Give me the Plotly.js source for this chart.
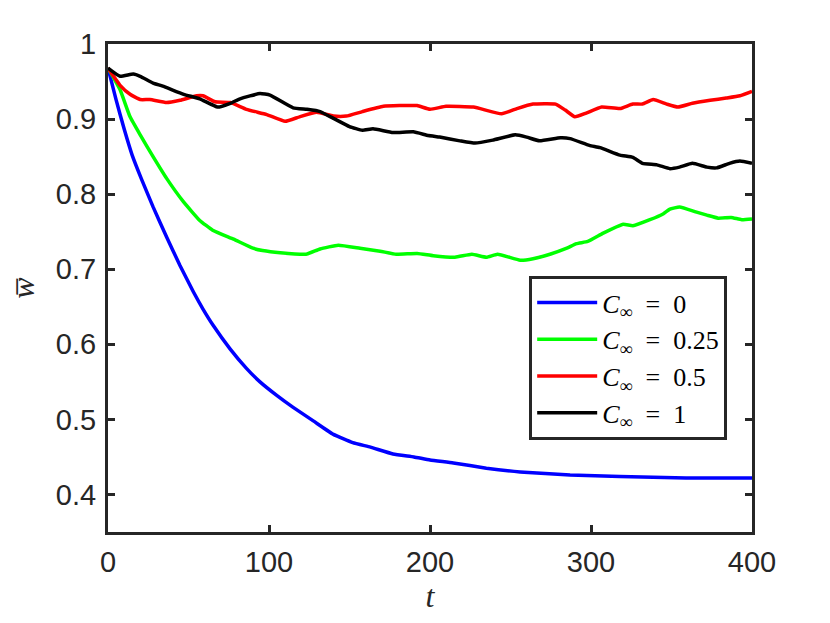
<!DOCTYPE html>
<html>
<head>
<meta charset="utf-8">
<script src="https://cdn.plot.ly/plotly-3.0.1.min.js"></script>
<style>html,body{margin:0;padding:0;background:#fff;}#chart{width:830px;height:623px;}</style>
</head>
<body>
<div id="chart"></div>
<script>
// C_inf = 0
const tBlue = [0,5,10,15,21,28,36.4,44.7,53,59,65.4,75.8,86,94.4,104.8,115,127.5,140,152,163,177,190,200,214.5,235,256,287,318,359,400];
const wBlue = [0.968,0.926,0.887,0.852,0.819,0.783,0.743,0.705,0.670,0.647,0.625,0.594,0.568,0.550,0.532,0.516,0.498,0.480,0.469,0.463,0.454,0.450,0.446,0.442,0.435,0.430,0.426,0.424,0.422,0.422];
// C_inf = 0.25
const tGreen = [0,7.5,13.7,20,28,36.4,46.8,57,65,78,90,96,107,123,131.7,143,156.5,169,179,192,202,215.5,226,235,242,256,264,274.5,285,291,298,307.6,320,326,336.6,345,349,355,365.6,372,379,387,393.6,400];
const wGreen = [0.968,0.939,0.903,0.879,0.850,0.821,0.790,0.765,0.752,0.740,0.728,0.725,0.722,0.720,0.727,0.732,0.728,0.724,0.720,0.721,0.718,0.716,0.720,0.716,0.720,0.712,0.714,0.720,0.728,0.734,0.737,0.748,0.760,0.758,0.766,0.774,0.780,0.783,0.776,0.772,0.768,0.769,0.766,0.767];
// C_inf = 0.5
const tRed = [0,7.5,13.7,20,26,36.4,44.7,55,59,66.5,76,86,98.6,110,119,129.6,140,148,158,171,181,192,200,210,227,244.5,254,264,278,284,290,297,306.6,318,326,332,338.6,347,354,363,374,384,392.5,400];
const wRed = [0.968,0.945,0.933,0.926,0.926,0.922,0.925,0.931,0.931,0.923,0.922,0.913,0.906,0.897,0.903,0.909,0.904,0.904,0.910,0.917,0.918,0.918,0.913,0.917,0.916,0.907,0.914,0.920,0.920,0.912,0.903,0.908,0.916,0.914,0.920,0.920,0.926,0.920,0.916,0.921,0.925,0.928,0.931,0.937];
// C_inf = 1
const tBlack = [0,7.5,15.7,20,28,34,47,57,68,76,82,94.4,100.6,115,123.6,131.7,140,150,158,164.6,177,189.6,199,206,218.6,228,239,253,260,268,281,287,299,305.6,318,326,332,341,349,355,363,372,378,386,392.5,400];
const wBlack = [0.968,0.957,0.960,0.957,0.948,0.944,0.933,0.927,0.916,0.921,0.927,0.934,0.932,0.915,0.913,0.910,0.901,0.890,0.885,0.887,0.882,0.883,0.878,0.876,0.871,0.868,0.872,0.879,0.876,0.871,0.875,0.874,0.865,0.862,0.852,0.849,0.841,0.839,0.834,0.836,0.841,0.836,0.835,0.841,0.844,0.841];

const names = ['<i>C</i><sub>∞</sub>\u2002=\u20020','<i>C</i><sub>∞</sub>\u2002=\u20020.25','<i>C</i><sub>∞</sub>\u2002=\u20020.5','<i>C</i><sub>∞</sub>\u2002=\u20021'];
const colors = ['#0000ff','#00ff00','#ff0000','#000000'];
const xs = [tBlue,tGreen,tRed,tBlack];
const ys = [wBlue,wGreen,wRed,wBlack];
const xTicks = [0,100,200,300,400];
const yTicks = [0.4,0.5,0.6,0.7,0.8,0.9,1];
const yTickText = ['0.4','0.5','0.6','0.7','0.8','0.9','1'];

const traces = xs.map((x,i)=>({
  x: x, y: ys[i], type:'scatter', mode:'lines', name: names[i],
  line:{color:colors[i], width:3.5, shape:'spline', smoothing:0.4}
}));

const axisCommon = {
  showline:true, linecolor:'#262626', linewidth:3, mirror:'ticks',
  ticks:'inside', ticklen:7, tickwidth:3, tickcolor:'#262626',
  showgrid:false, zeroline:false,
  tickfont:{family:'Liberation Sans, Arial, sans-serif', size:29, color:'#262626'}
};

const layout = {
  width:830, height:623,
  margin:{l:108, r:78, t:44, b:91},
  paper_bgcolor:'#fff', plot_bgcolor:'#fff',
  showlegend:true,
  xaxis: Object.assign({}, axisCommon, {
    range:[0,400], tickvals:xTicks, ticktext:xTicks.map(String),
    ticklabelstandoff:2,
    title:{text:'<i>t</i>', font:{family:'Liberation Serif, serif', size:32, color:'#262626'}, standoff:2}
  }),
  yaxis: Object.assign({}, axisCommon, {
    range:[0.35,1], tickvals:yTicks, ticktext:yTickText,
    ticklabelstandoff:3,
    title:{text:'<i>w̅</i>', font:{family:'Liberation Serif, serif', size:32, color:'#262626'}, standoff:12}
  }),
  legend:{
    x:0.654, y:0.5246, xanchor:'left', yanchor:'top',
    bgcolor:'#fff', bordercolor:'#262626', borderwidth:3,
    font:{family:'Liberation Serif, serif', size:26, color:'#000'},
    tracegroupgap:0, itemwidth:60
  }
};

Plotly.newPlot('chart', traces, layout, {staticPlot:true});
</script>
</body>
</html>
